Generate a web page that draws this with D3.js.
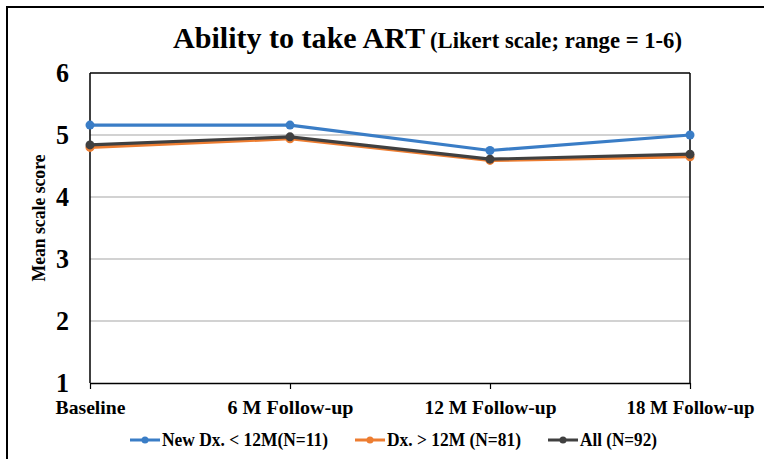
<!DOCTYPE html>
<html><head><meta charset="utf-8">
<script src="https://cdn.jsdelivr.net/npm/d3@7"></script>
<style>body{margin:0;background:#fff}svg{display:block}text{font-family:"Liberation Serif","Times New Roman",serif;font-weight:bold;fill:#000}</style>
</head><body><svg id="c" width="764" height="459"></svg>
<script>
const categories = ["Baseline", "6 M Follow-up", "12 M Follow-up", "18 M Follow-up"];
const seriesNames = ["New Dx. < 12M(N=11)", "Dx. > 12M (N=81)", "All (N=92)"];
const newDx = [5.16, 5.16, 4.75, 5.0];
const oldDx = [4.80, 4.94, 4.59, 4.65];
const allPts = [4.84, 4.97, 4.61, 4.69];
const yTicks = [1, 2, 3, 4, 5, 6];
const colors = ["#3a7dc6", "#ed7d31", "#404040"];

const series = [
  {name: seriesNames[0], values: newDx, color: colors[0]},
  {name: seriesNames[1], values: oldDx, color: colors[1]},
  {name: seriesNames[2], values: allPts, color: colors[2]}
];

const svg = d3.select("#c");
svg.append("rect").attr("x", 7).attr("y", 7).attr("width", 800).attr("height", 500)
  .attr("fill", "none").attr("stroke", "#000").attr("stroke-width", 2);

const x = d3.scalePoint().domain(categories).range([90, 690]);
const y = d3.scaleLinear().domain([1, 6]).range([383, 73]);

svg.append("g").selectAll("line").data(yTicks.filter(t => t > 1 && t < 6)).join("line")
  .attr("x1", 90).attr("x2", 690).attr("y1", d => y(d)).attr("y2", d => y(d))
  .attr("stroke", "#a6a6a6").attr("stroke-width", 1.2);

svg.append("line").attr("x1", 90).attr("x2", 690).attr("y1", y(6)).attr("y2", y(6)).attr("stroke", "#000").attr("stroke-width", 1.5);
svg.append("line").attr("x1", 690).attr("x2", 690).attr("y1", y(6)).attr("y2", y(1)).attr("stroke", "#000").attr("stroke-width", 1.5);
svg.append("line").attr("x1", 90).attr("x2", 90).attr("y1", y(6)).attr("y2", y(1)).attr("stroke", "#000").attr("stroke-width", 1.5);

const xLabelLen = [70, 126, 132, 128];
const xAxis = svg.append("g").attr("transform", `translate(0,${y(1)})`)
  .call(d3.axisBottom(x).tickSize(6).tickSizeOuter(0).tickPadding(12));
xAxis.select(".domain").attr("stroke", "#000").attr("stroke-width", 1.5);
xAxis.selectAll(".tick line").attr("stroke", "#000").attr("stroke-width", 1.2);
xAxis.selectAll(".tick text").attr("font-size", 19).attr("font-family", "Liberation Serif").attr("font-weight", "bold").attr("fill", "#000")
  .attr("textLength", (d, i) => xLabelLen[i]).attr("lengthAdjust", "spacingAndGlyphs");

const yAxis = svg.append("g").attr("transform", `translate(90,0)`)
  .call(d3.axisLeft(y).tickValues(yTicks).tickSize(0).tickPadding(21).tickFormat(d3.format("d")));
yAxis.select(".domain").remove();
yAxis.selectAll(".tick text").attr("font-size", 27).attr("font-family", "Liberation Serif").attr("font-weight", "bold").attr("fill", "#000")
  .attr("textLength", 13).attr("lengthAdjust", "spacingAndGlyphs");

svg.append("text").attr("transform", "translate(45,218) rotate(-90)").attr("text-anchor", "middle")
  .attr("font-size", 19).attr("textLength", 127).attr("lengthAdjust", "spacingAndGlyphs").text("Mean scale score");

const t = svg.append("text").attr("y", 48);
t.append("tspan").attr("x", 173).attr("font-size", 29).attr("textLength", 252).attr("lengthAdjust", "spacingAndGlyphs").text("Ability to take ART");
t.append("tspan").attr("x", 430).attr("font-size", 23).attr("textLength", 252).attr("lengthAdjust", "spacingAndGlyphs").text("(Likert scale; range = 1-6)");

const line = d3.line().x((d, i) => x(categories[i])).y(d => y(d));
const g = svg.append("g");
series.forEach(s => {
  g.append("path").datum(s.values).attr("d", line).attr("fill", "none")
    .attr("stroke", s.color).attr("stroke-width", 3.2).attr("stroke-linejoin", "round");
  g.selectAll(null).data(s.values).join("circle")
    .attr("cx", (d, i) => x(categories[i])).attr("cy", d => y(d)).attr("r", 4.5).attr("fill", s.color);
});

const legX = [130, 355, 548];
const legTextLen = [166, 134, 77];
const leg = svg.append("g");
series.forEach((s, i) => {
  const lx = legX[i], ly = 440;
  leg.append("line").attr("x1", lx).attr("x2", lx + 30).attr("y1", ly).attr("y2", ly)
    .attr("stroke", s.color).attr("stroke-width", 3);
  leg.append("circle").attr("cx", lx + 15).attr("cy", ly).attr("r", 3.5).attr("fill", s.color);
  leg.append("text").attr("x", lx + 32).attr("y", ly + 5.5).attr("font-size", 18)
    .attr("textLength", legTextLen[i]).attr("lengthAdjust", "spacingAndGlyphs").text(s.name);
});
</script></body></html>
